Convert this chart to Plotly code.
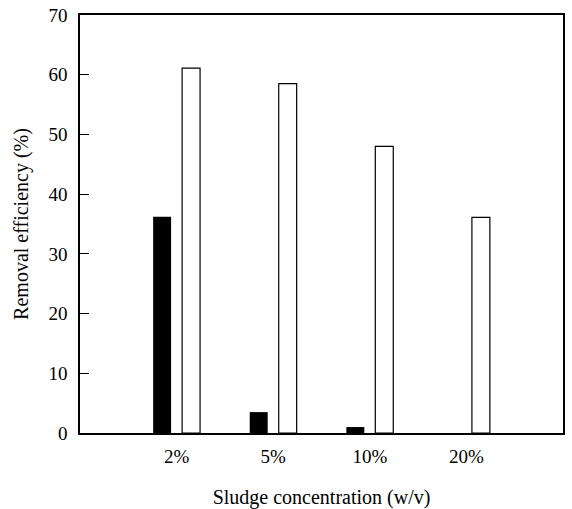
import plotly.graph_objects as go

categories = ["2%", "5%", "10%", "20%"]
black_values = [36.2, 3.5, 1.0, 0.0]
white_values = [61.1, 58.5, 48.0, 36.1]
y_ticks = [0, 10, 20, 30, 40, 50, 60, 70]

FONT = "Liberation Serif, Times New Roman, serif"

fig = go.Figure()
fig.add_trace(go.Bar(
    x=categories, y=black_values, width=0.186, offset=-0.243,
    marker=dict(color="black", line=dict(color="black", width=0)),
    showlegend=False,
))
fig.add_trace(go.Bar(
    x=categories, y=white_values, width=0.186, offset=0.057,
    marker=dict(color="white", line=dict(color="black", width=1.2)),
    showlegend=False,
))

fig.update_layout(
    width=572, height=509,
    margin=dict(l=80, r=9, t=15, b=76),
    paper_bgcolor="white", plot_bgcolor="white",
    barmode="overlay",
    font=dict(family=FONT, size=19, color="black"),
    xaxis=dict(
        type="category", categoryorder="array", categoryarray=categories,
        range=[-1, 4], showline=True, linecolor="black", linewidth=1.5,
        mirror=True, ticks="", showgrid=False, zeroline=False,
        ticklabelstandoff=5, automargin=False,
        title=dict(text="Sludge concentration (w/v)", font=dict(size=20), standoff=25),
    ),
    yaxis=dict(
        range=[0, 70], tickvals=y_ticks, ticks="inside", ticklen=9,
        tickcolor="black", tickwidth=1.2,
        showline=True, linecolor="black", linewidth=1.5, mirror=True,
        showgrid=False, zeroline=False, ticklabelstandoff=7, automargin=False,
        title=dict(text="Removal efficiency (%)", font=dict(size=20), standoff=14),
    ),
)

fig.write_html(
    "out.html",
    config={"displayModeBar": False},
    post_script="document.body.style.margin='0';document.body.style.overflow='hidden';",
)
